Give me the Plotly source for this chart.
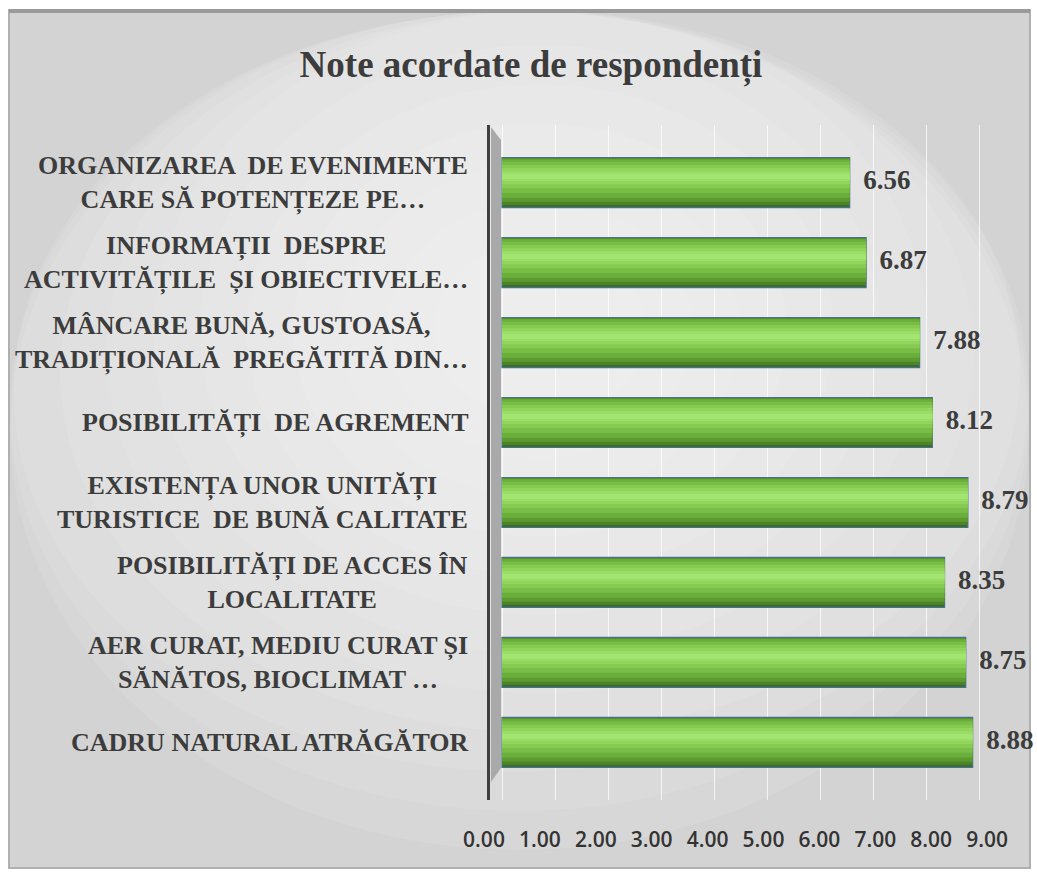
import plotly.graph_objects as go

# ---- data ----
categories = [
    "CADRU NATURAL ATRĂGĂTOR",
    "AER CURAT, MEDIU CURAT ȘI<br>SĂNĂTOS, BIOCLIMAT …",
    "POSIBILITĂȚI DE ACCES ÎN<br>LOCALITATE",
    "EXISTENȚA UNOR UNITĂȚI<br>TURISTICE  DE BUNĂ CALITATE",
    "POSIBILITĂȚI  DE AGREMENT",
    "MÂNCARE BUNĂ, GUSTOASĂ,<br>TRADIȚIONALĂ  PREGĂTITĂ DIN…",
    "INFORMAȚII  DESPRE<br>ACTIVITĂȚILE  ȘI OBIECTIVELE…",
    "ORGANIZAREA  DE EVENIMENTE<br>CARE SĂ POTENȚEZE PE…",
]
values = [8.88, 8.75, 8.35, 8.79, 8.12, 7.88, 6.87, 6.56]
tick_values = [0, 1, 2, 3, 4, 5, 6, 7, 8, 9]
title_text = "Note acordate de respondenți"

# ---- geometry helpers (page coords; body margin removed) ----
OFF = 0
FW, FH = 1037, 875
L = 470 - OFF
T = 125 - OFF
B = FH - (800 - OFF)
R = FW - (1000 - OFF)
W = FW - L - R
H = FH - T - B


def px(X):
    return (X - OFF - L) / W


def py(Y):
    return (FH - B - (Y - OFF)) / H


SERIF = "Liberation Serif, Times New Roman, serif"
TXT = "#3c3c3c"

fig = go.Figure()

# cylinder-like shading: overlaid bar layers (lo, hi relative to category centre)
layers = [
    (-0.3125, 0.3125, "#3d6d22"),
    (-0.28, 0.305, "#4c8529"),
    (-0.24, 0.30, "#5c9b31"),
    (-0.19, 0.29, "#6aae3c"),
    (-0.13, 0.26, "#78bd46"),
    (-0.07, 0.22, "#86ca52"),
    (-0.02, 0.18, "#91d55d"),
    (0.02, 0.14, "#9bde67"),
    (0.045, 0.105, "#a3e570"),
]
for i, (lo, hi, col) in enumerate(layers):
    fig.add_trace(go.Bar(
        orientation="h", x=values, y=categories,
        width=hi - lo, offset=lo,
        marker=dict(color=col,
                    line=dict(color="#4a6f95" if i == 0 else col, width=1.2 if i == 0 else 0)),
        hoverinfo="skip", showlegend=False,
    ))

# value labels
fig.add_trace(go.Scatter(
    x=values, y=categories, mode="markers+text",
    text=[f"{v:.2f}" for v in values], textposition="middle right",
    marker=dict(size=20, color="rgba(0,0,0,0)"),
    textfont=dict(family=SERIF, size=27, color=TXT, weight="bold"),
    cliponaxis=False, hoverinfo="skip", showlegend=False,
))

# axis tick labels on front axis
fig.add_trace(go.Scatter(
    x=tick_values, y=[0] * len(tick_values), xaxis="x2", yaxis="y2",
    mode="markers", marker=dict(size=1, color="rgba(0,0,0,0)"),
    hoverinfo="skip", showlegend=False,
))

# category labels
for c in categories:
    fig.add_annotation(
        x=px(470), xref="paper", y=c, yref="y",
        text=f"<b>{c}</b>", showarrow=False,
        xanchor="right", yanchor="middle", align="center",
        font=dict(family=SERIF, size=26, color=TXT),
    )

shapes = []
# frame background
shapes.append(dict(type="rect", xref="paper", yref="paper",
                   x0=px(9), x1=px(1030), y0=py(868), y1=py(10),
                   fillcolor="#d3d3d3", line=dict(width=0), layer="below"))
# soft radial lightening
cx, cy = 540, 330
for k in range(12):
    f = 1 - k / 12
    rx, ry = 560 * f + 60, 470 * f + 50
    shapes.append(dict(type="circle", xref="paper", yref="paper",
                       x0=px(max(cx - rx, 10)), x1=px(min(cx + rx, 1029)),
                       y0=py(min(cy + ry, 867)), y1=py(max(cy - ry, 11)),
                       fillcolor="white", opacity=0.09, line=dict(width=0), layer="below"))
# frame border
shapes.append(dict(type="rect", xref="paper", yref="paper",
                   x0=px(9), x1=px(1030), y0=py(868), y1=py(10),
                   fillcolor="rgba(0,0,0,0)", line=dict(color="#b0b0b0", width=2), layer="below"))
shapes.append(dict(type="line", xref="paper", yref="paper",
                   x0=px(9), x1=px(1030), y0=py(11), y1=py(11),
                   line=dict(color="#9a9a9a", width=4), layer="below"))
# side wall strip
shapes.append(dict(type="path", xref="paper", yref="paper",
                   path=(f"M {px(491)} {py(127)} L {px(501)} {py(140)} L {px(501)} {py(768)} "
                         f"L {px(491)} {py(782)} Z"),
                   fillcolor="#a9a9a9", line=dict(width=0), layer="below"))

fig.update_layout(
    width=FW, height=FH,
    margin=dict(l=L, r=R, t=T, b=B),
    paper_bgcolor="white", plot_bgcolor="rgba(0,0,0,0)",
    barmode="overlay",
    title=dict(text=f"<b>{title_text}</b>", x=(531 - OFF) / FW, xanchor="center",
               y=1 - (64 - OFF) / FH, yanchor="middle", xref="container", yref="container",
               font=dict(family=SERIF, size=37, color=TXT)),
    xaxis=dict(domain=[px(490), 1], range=[-12 / 53, (1000 - 502) / 53],
               showticklabels=False, showgrid=True, gridcolor="rgba(255,255,255,0.75)",
               gridwidth=1, tickvals=tick_values, zeroline=False, showline=False),
    yaxis=dict(type="category", categoryorder="array", categoryarray=categories,
               range=[-0.72, 7.72], showticklabels=False, showgrid=False,
               showline=True, linecolor="#3f3f3f", linewidth=3, zeroline=False),
    xaxis2=dict(domain=[0, 1], anchor="y2", range=[(470 - 484) / 55.9, (1000 - 484) / 55.9],
                tickvals=tick_values, tickformat=".2f", ticks="", showgrid=False,
                zeroline=False, showline=False, ticklabelstandoff=25,
                tickfont=dict(family="Open Sans, Noto Sans, sans-serif", size=21,
                              color="#333333", weight=600)),
    yaxis2=dict(domain=[0, 0.001], anchor="x2", visible=False, range=[0, 1]),
    shapes=shapes,
    showlegend=False,
)

fig.write_html("out.html",
               config={"displayModeBar": False},
               post_script="document.body.style.margin='0';document.body.style.overflow='hidden';")
